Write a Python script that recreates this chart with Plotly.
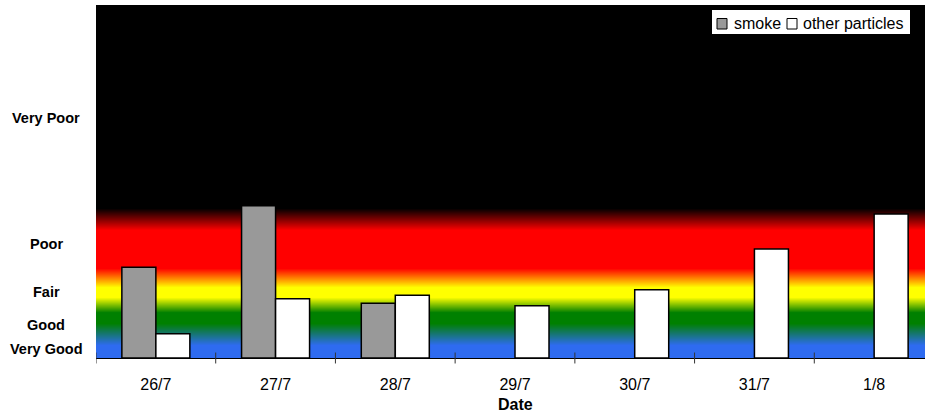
import plotly.graph_objects as go

# ---- data ----
dates = ["26/7", "27/7", "28/7", "29/7", "30/7", "31/7", "1/8"]
smoke = [25.7, 43.1, 15.5, None, None, None, None]
other_particles = [6.9, 16.8, 17.8, 14.8, 19.3, 30.9, 40.8]

quality_labels = ["Very Poor", "Poor", "Fair", "Good", "Very Good"]
quality_levels = [68.0, 32.3, 18.7, 9.3, 2.5]

# background band colour stops (level on the 0-100 scale, colour)
band_stops = [
    (0.0, "rgb(46,107,240)"),
    (3.7, "rgb(46,107,240)"),
    (9.9, "rgb(0,128,0)"),
    (13.0, "rgb(0,128,0)"),
    (17.3, "rgb(255,255,0)"),
    (20.1, "rgb(255,255,0)"),
    (25.5, "rgb(255,0,0)"),
    (36.3, "rgb(255,0,0)"),
    (42.5, "rgb(0,0,0)"),
    (100.0, "rgb(0,0,0)"),
]
Y_MAX = 100.0

FONT = "Liberation Sans, Arial, sans-serif"

# plot-area geometry in pixels (for converting layout decorations to paper coords)
W, H = 925, 416
L, R, T, B = 96, 0, 5, 58
PW, PH = W - L - R, H - T - B


def px(xpix):
    return (xpix - L) / PW


def py(ypix):
    return (H - B - ypix) / PH


idx = list(range(len(dates)))

fig = go.Figure()

# gradient background
fig.add_trace(go.Heatmap(
    x=[-1, len(dates) + 1],
    y=[0, Y_MAX],
    z=[[0, 0], [Y_MAX, Y_MAX]],
    zmin=0, zmax=Y_MAX,
    colorscale=[[v / Y_MAX, c] for v, c in band_stops],
    zsmooth="best",
    showscale=False,
    hoverinfo="skip",
))

fig.add_trace(go.Bar(
    x=idx, y=smoke, name="smoke",
    marker=dict(color="#999999", line=dict(color="black", width=1.5)),
))
fig.add_trace(go.Bar(
    x=idx, y=other_particles, name="other particles",
    marker=dict(color="white", line=dict(color="black", width=1.5)),
))

shapes = []
# category boundary ticks crossing the axis
for i in range(len(dates) + 1):
    shapes.append(dict(type="line", xref="x", yref="paper",
                       x0=i - 0.5, x1=i - 0.5, y0=-0.0155, y1=0.0155,
                       line=dict(color="#333333", width=1)))

# custom legend
shapes.append(dict(type="rect", xref="paper", yref="paper",
                   x0=px(712), x1=px(910), y0=py(34), y1=py(10),
                   fillcolor="white", line=dict(width=0)))
shapes.append(dict(type="rect", xref="paper", yref="paper",
                   x0=px(717), x1=px(727), y0=py(29), y1=py(18.5),
                   fillcolor="#999999", line=dict(color="black", width=1)))
shapes.append(dict(type="rect", xref="paper", yref="paper",
                   x0=px(787), x1=px(797), y0=py(29), y1=py(18.5),
                   fillcolor="white", line=dict(color="black", width=1)))

annotations = []
for lab, lvl in zip(quality_labels, quality_levels):
    annotations.append(dict(
        text=lab, xref="paper", yref="y", x=px(46), y=lvl,
        xanchor="center", yanchor="middle", showarrow=False,
        font=dict(family=FONT, size=14.5, color="black", weight="bold"),
    ))

annotations.append(dict(
    text="Date", xref="x", yref="paper", x=3, y=py(404),
    xanchor="center", yanchor="middle", showarrow=False,
    font=dict(family=FONT, size=16, color="black", weight="bold"),
))

annotations.append(dict(
    text="smoke", xref="paper", yref="paper", x=px(731.5), y=py(23.5),
    xanchor="left", yanchor="middle", showarrow=False,
    font=dict(family=FONT, size=16, color="black"),
))
annotations.append(dict(
    text="other particles", xref="paper", yref="paper", x=px(800.5), y=py(23.5),
    xanchor="left", yanchor="middle", showarrow=False,
    font=dict(family=FONT, size=16, color="black"),
))

fig.update_layout(
    width=W, height=H,
    margin=dict(l=L, r=R, t=T, b=B, pad=0),
    paper_bgcolor="white", plot_bgcolor="white",
    barmode="group", bargap=0.432, bargroupgap=0,
    showlegend=False,
    shapes=shapes, annotations=annotations,
    font=dict(family=FONT, size=16, color="black"),
    xaxis=dict(
        range=[-0.5, len(dates) - 0.5 - 9 / 119.7],
        tickmode="array", tickvals=idx, ticktext=dates,
        ticks="outside", ticklen=12, tickcolor="rgba(0,0,0,0)",
        tickfont=dict(family=FONT, size=16, color="black"),
        showline=True, linecolor="black", linewidth=1,
        showgrid=False, zeroline=False, fixedrange=True,
    ),
    yaxis=dict(
        range=[0, Y_MAX], showticklabels=False, ticks="",
        showgrid=False, zeroline=False, showline=False, fixedrange=True,
    ),
)

fig.write_html(
    "out.html",
    config={"displayModeBar": False},
    post_script="document.body.style.margin='0px';document.body.style.overflow='hidden';",
)
